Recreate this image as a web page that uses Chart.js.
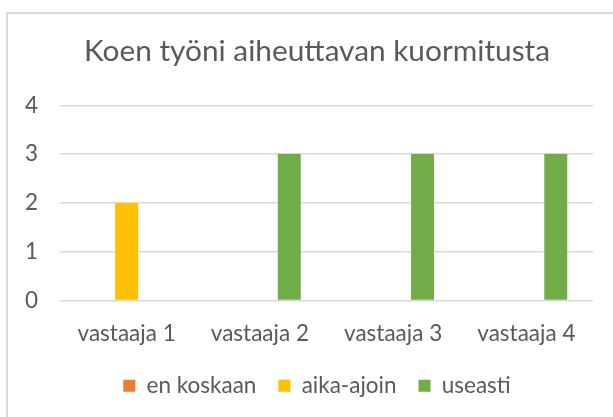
<!DOCTYPE html>
<html>
<head>
<meta charset="utf-8">
<script src="https://cdn.jsdelivr.net/npm/chart.js@4.4.1/dist/chart.umd.min.js"></script>
<style>
    html, body { margin: 0; padding: 0; background: #ffffff; }
    canvas { display: block; }
</style>
</head>
<body>
<canvas id="kuva" width="613" height="417"></canvas>
<script>
// vastaajat ja sarjat
const vastaajat = ['vastaaja 1', 'vastaaja 2', 'vastaaja 3', 'vastaaja 4'];
const enKoskaan = [0, 0, 0, 0];
const aikaAjoin = [2, 0, 0, 0];
const useasti = [0, 3, 3, 3];

const otsikko = 'Koen työni aiheuttavan kuormitusta';
const fontti = 'Lato';
const harmaa = '#595959';

// ulkoreunus kuten Excelin kaaviossa
const reunus = {
    id: 'reunus',
    beforeDraw(chart) {
        const ctx = chart.ctx;
        ctx.save();
        ctx.fillStyle = '#ffffff';
        ctx.fillRect(0, 0, chart.width, chart.height);
        ctx.strokeStyle = '#d9d9d9';
        ctx.lineWidth = 2;
        ctx.strokeRect(7, 13, 640, 440);
        ctx.restore();
    }
};

const ctx = document.getElementById('kuva').getContext('2d');
new Chart(ctx, {
    type: 'bar',
    data: {
        labels: vastaajat,
        datasets: [
            { label: 'en koskaan', data: enKoskaan, backgroundColor: '#ED7D31' },
            { label: 'aika-ajoin', data: aikaAjoin, backgroundColor: '#FFC000' },
            { label: 'useasti', data: useasti, backgroundColor: '#70AD47' }
        ]
    },
    options: {
        responsive: false,
        animation: false,
        categoryPercentage: 0.662,
        barPercentage: 0.78,
        layout: {
            padding: { left: 41, right: 20, top: 0, bottom: 10 }
        },
        plugins: {
            title: {
                display: true,
                text: otsikko,
                color: harmaa,
                font: { family: fontti, size: 29.8, weight: 'normal' },
                padding: { top: 34, bottom: 35.5 }
            },
            legend: {
                position: 'bottom',
                labels: {
                    color: harmaa,
                    font: { family: fontti, size: 22.5 },
                    boxWidth: 12,
                    boxHeight: 12,
                    padding: 22
                }
            },
            tooltip: { enabled: false }
        },
        scales: {
            x: {
                afterFit(scale) { scale.height = 52; },
                grid: { display: false },
                border: { display: false },
                ticks: {
                    color: harmaa,
                    font: { family: fontti, size: 22.5 },
                    padding: 12,
                    maxRotation: 0
                }
            },
            y: {
                min: 0,
                max: 4,
                afterFit(scale) { scale.width = 60 - 41; },
                grid: { color: '#d9d9d9', lineWidth: 1.5, drawTicks: false },
                border: { display: false },
                ticks: {
                    stepSize: 1,
                    mirror: true,   // muuten akseli leikkaa numerot pois
                    color: harmaa,
                    font: { family: fontti, size: 22.5 },
                    padding: -35
                }
            }
        }
    },
    plugins: [reunus]
});
</script>
</body>
</html>
